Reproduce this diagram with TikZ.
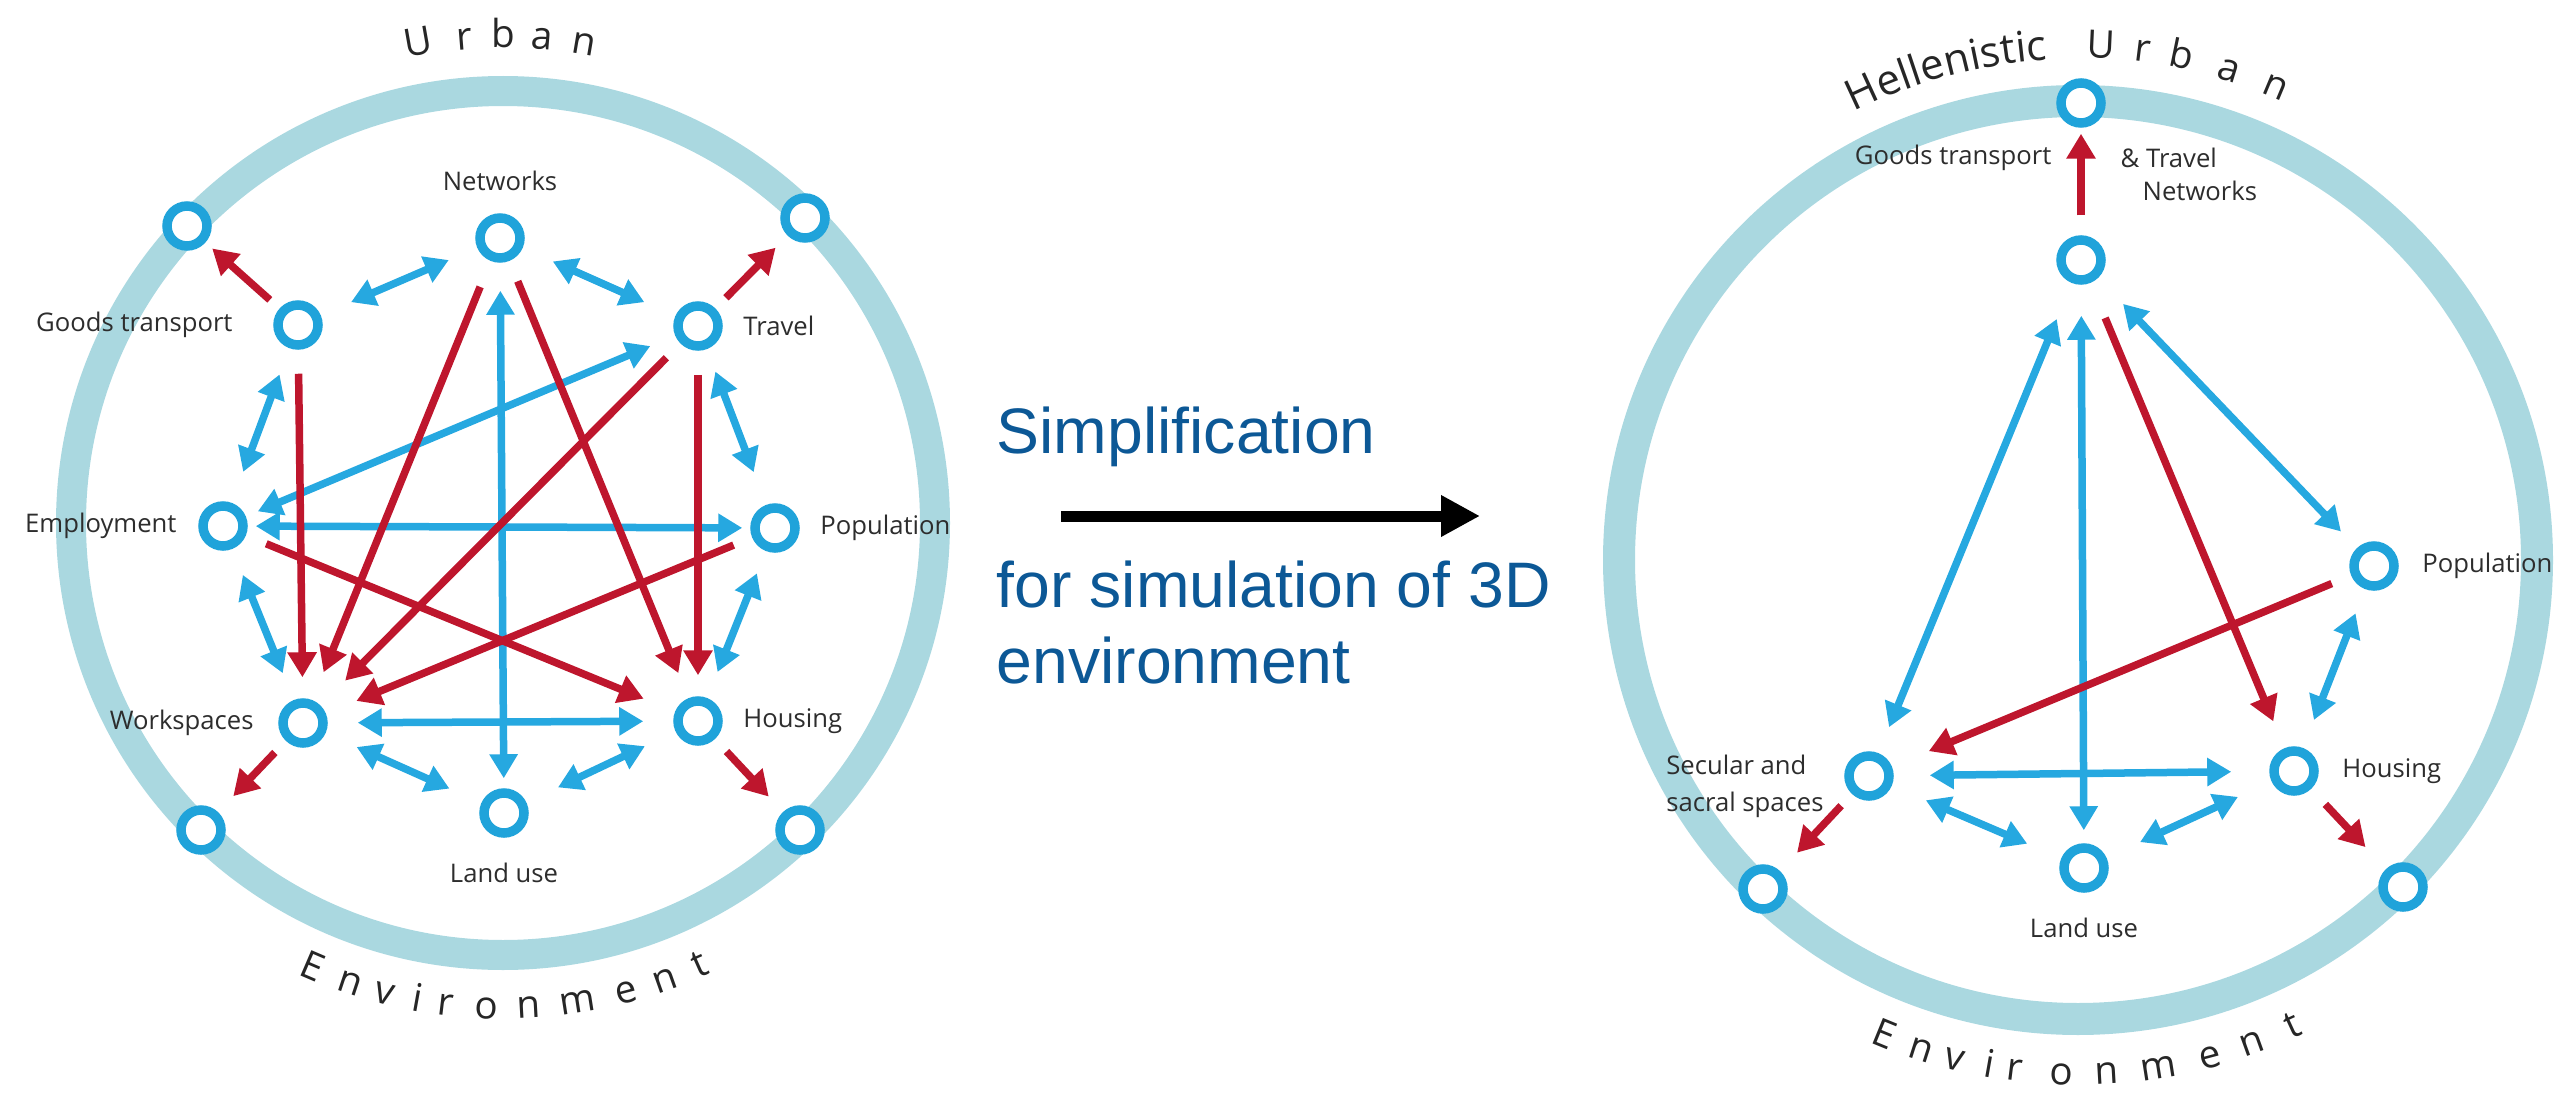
\documentclass[tikz,border=0pt]{standalone}
\usepackage{fontspec}
\setmainfont{Open Sans}
\newfontfamily\notefamily{Liberation Sans}
\usetikzlibrary{arrows.meta,positioning,decorations.text}

\definecolor{ringblue}{RGB}{170,216,224}
\definecolor{hubblue}{RGB}{32,163,218}
\definecolor{linkblue}{RGB}{38,168,224}
\definecolor{flowred}{RGB}{190,22,45}
\definecolor{labelgray}{RGB}{45,45,45}
\definecolor{notecolor}{RGB}{12,88,150}

\begin{document}
\begin{tikzpicture}[x=0.1mm,y=0.1mm,
  ring/.style={draw=ringblue, line width=3mm},
  hub/.style={circle, draw=hubblue, fill=white, line width=0.95mm, minimum size=4mm, inner sep=0pt},
  lbl/.style={font=\fontsize{7.3}{10.5}\selectfont, text=labelgray, inner sep=0pt},
  arcchar/.style={font=\fontsize{11}{13}\selectfont, text=black!85, inner sep=0pt, anchor=base},
  link/.style={draw=linkblue, line width=0.75mm, {Triangle[length=2.4mm,width=2.7mm]}-{Triangle[length=2.4mm,width=2.7mm]}},
  flow/.style={draw=flowred, line width=0.75mm, -{Triangle[length=2.5mm,width=2.8mm]}},
  ends/.style 2 args={shorten <=#1, shorten >=#2},
  note/.style={font=\notefamily\fontsize{18.3}{22}\selectfont, text=notecolor, inner sep=0pt, anchor=base west}]
\path[use as bounding box] (0,0) rectangle (2569,1092);

% full model
\coordinate (lc) at (503,569);
\draw[ring] (lc) circle[radius=432];
\foreach \ch/\a in {U/100,r/94.5,b/90,a/85.4,n/80.4}
  \node[arcchar, rotate=\a-90] at ([shift={(\a:475)}]lc) {\ch};
\foreach \ch/\a in {E/246.8,n/251.6,v/255.9,i/259.8,r/263.2,o/268,n/273.1,m/278.9,e/284.7,n/289.5,t/294}
  \node[arcchar, rotate=\a+90] at ([shift={(\a:496)}]lc) {\ch};

\node[hub] (tl) at (187,866) {};
\node[hub] (tr) at (805,874) {};
\node[hub] (bl) at (201,262) {};
\node[hub] (br) at (800,262) {};
\node[hub] (net) at (500,854) {};
\node[hub] (gt) at (298,767) {};
\node[hub] (trav) at (698,766) {};
\node[hub] (emp) at (223,566) {};
\node[hub] (pop) at (775,564) {};
\node[hub] (ws) at (303,369) {};
\node[hub] (hou) at (698,371) {};
\node[hub] (land) at (504,279) {};

\node[lbl, above=2.2mm of net] {Networks};
\node[lbl, left=4mm of gt] {Goods transport};
\node[lbl, right=2mm of trav] {Travel};
\node[lbl, left=2.1mm of emp] {Employment};
\node[lbl, right=2mm of pop] {Population};
\node[lbl, left=2.4mm of ws] {Workspaces};
\node[lbl, right=2mm of hou] {Housing};
\node[lbl, below=2.5mm of land] {Land use};

\draw[link, ends={3.3mm}{3.1mm}] (gt) -- (net);
\draw[link, ends={3.3mm}{3.4mm}] (net) -- (trav);
\draw[link, ends={2.8mm}{3.3mm}] (gt) -- (emp);
\draw[link, ends={2.4mm}{3.5mm}] (trav) -- (pop);
\draw[link, ends={2.8mm}{2.9mm}] (emp) -- (ws);
\draw[link, ends={2.4mm}{2.8mm}] (pop) -- (hou);
\draw[link, ends={0.8mm}{0.8mm}] (emp) -- (pop);
\draw[link, ends={3mm}{3mm}] (ws) -- (hou);
\draw[link, ends={3.4mm}{3.5mm}] (ws) -- (land);
\draw[link, ends={3.5mm}{3.4mm}] (land) -- (hou);
\draw[link, ends={2.7mm}{1.3mm}] (trav) -- (emp);
\draw[link, ends={2.8mm}{1mm}] (net) -- (land);

\draw[flow, ends={1.3mm}{0.9mm}] (gt) -- (tl);
\draw[flow, ends={1.5mm}{1.7mm}] (trav) -- (tr);
\draw[flow, ends={1.6mm}{2.2mm}] (ws) -- (bl);
\draw[flow, ends={1.7mm}{2.1mm}] (hou) -- (br);
\draw[flow, ends={2.4mm}{2.1mm}] (gt) -- (ws);
\draw[flow, ends={2.4mm}{2.1mm}] (trav) -- (hou);
\draw[flow, ends={2.8mm}{3mm}] (net) -- (ws);
\draw[flow, ends={2.2mm}{2.7mm}] (net) -- (hou);
\draw[flow, ends={2mm}{3.5mm}] (trav) -- (ws);
\draw[flow, ends={2mm}{3.3mm}] (pop) -- (ws);
\draw[flow, ends={2.2mm}{3.4mm}] (emp) -- (hou);

% step between the two models
\node[note] (simp) at (996,639) {Simplification};
\node[note] (purpose) at (996,485) {for simulation of 3D};
\node[note] (purpose2) at (996,409) {environment};
\coordinate (from) at (1061,576);
\coordinate (to) at (1480,576);
\draw[line width=1.1mm, -{Triangle[length=3.9mm,width=3.9mm]}] (from) -- (to);

% reduced model
\coordinate (rc) at (2078,532);
\draw[ring, line width=3.2mm] (rc) circle[radius=459];
\path[decorate, decoration={text along path, text align=center,
  text={|\fontsize{12}{14}\selectfont\color{black!85}|Hellenistic}}]
  ([shift={(124:501)}]rc) arc[start angle=124, end angle=86, radius=501];
\foreach \ch/\a in {U/87.4,r/82.8,b/78.4,a/72.9,n/67.3}
  \node[arcchar, rotate=\a-90] at ([shift={(\a:502)}]rc) {\ch};
\foreach \ch/\a in {E/247.8,n/252.2,v/256.1,i/260,r/262.9,o/268.2,n/273.2,m/279,e/284.9,n/289.8,t/294.7}
  \node[arcchar, rotate=\a+90] at ([shift={(\a:525)}]rc) {\ch};

\node[hub] (rtop) at (2081,989) {};
\node[hub] (rbl) at (1763,203) {};
\node[hub] (rbr) at (2403,205) {};
\node[hub] (rnet) at (2081,832) {};
\node[hub] (rpop) at (2374,526) {};
\node[hub] (rsec) at (1869,316) {};
\node[hub] (rhou) at (2294,321) {};
\node[hub] (rland) at (2084,224) {};

\node[lbl, anchor=east] at (2052,934) {Goods transport};
\node[lbl, anchor=west] at (2120,934) {\& Travel};
\node[lbl, anchor=west] at (2142,901) {Networks};
\node[lbl, right=2.3mm of rpop] {Population};
\node[lbl, left=2mm of rsec, yshift=-1mm, align=left] {Secular and\\sacral spaces};
\node[lbl, right=2.3mm of rhou] {Housing};
\node[lbl, below=2.5mm of rland] {Land use};

\draw[link, ends={3.9mm}{2.8mm}] (rnet) -- (rsec);
\draw[link, ends={3.1mm}{1.3mm}] (rnet) -- (rland);
\draw[link, ends={3.6mm}{2.3mm}] (rnet) -- (rpop);
\draw[link, ends={2.6mm}{3mm}] (rpop) -- (rhou);
\draw[link, ends={3.6mm}{3.8mm}] (rsec) -- (rhou);
\draw[link, ends={3.7mm}{3.7mm}] (rsec) -- (rland);
\draw[link, ends={3.7mm}{3.7mm}] (rland) -- (rhou);

\draw[flow, ends={2mm}{0.6mm}] (rnet) -- (rtop);
\draw[flow, ends={3.8mm}{2.9mm}] (rnet) -- (rhou);
\draw[flow, ends={2.1mm}{4mm}] (rpop) -- (rsec);
\draw[flow, ends={1.6mm}{2.5mm}] (rsec) -- (rbl);
\draw[flow, ends={2.1mm}{3mm}] (rhou) -- (rbr);
\end{tikzpicture}
\end{document}
